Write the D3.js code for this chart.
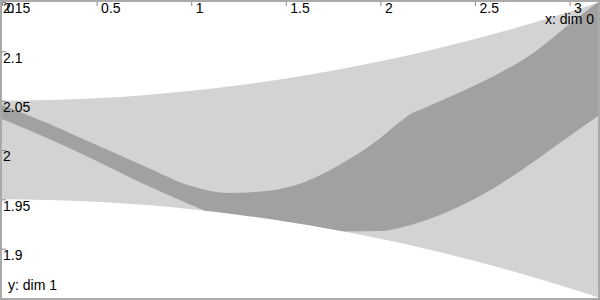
<!DOCTYPE html>
<html>
<head>
<meta charset="utf-8">
<script src="https://cdn.jsdelivr.net/npm/d3@7"></script>
<style>
    body { margin: 0; background: #fff; }
    svg { display: block; font-family: "Liberation Sans", Arial, sans-serif; }
</style>
</head>
<body>
<svg id="chart" width="600" height="300"></svg>
<script>
// tick values
let xTicks = [0, 0.5, 1, 1.5, 2, 2.5, 3];
let yTicks = [1.9, 1.95, 2, 2.05, 2.1, 2.15];

// outer (light) band
let lightX = [0, 0.25, 0.5, 0.75, 1, 1.25, 1.5, 1.75, 2, 2.25, 2.5, 2.75, 3, 3.15];
let lightHi = [2.05, 2.0506, 2.0525, 2.0556, 2.06, 2.0656, 2.0725, 2.0806, 2.09, 2.1006, 2.1125, 2.1256, 2.14, 2.1492];
let lightLo = [1.95, 1.9494, 1.9475, 1.9444, 1.94, 1.9344, 1.9275, 1.9194, 1.91, 1.8994, 1.8875, 1.8744, 1.86, 1.8508];

// inner (dark) band
let darkX = [0, 0.25, 0.5, 0.75, 1, 1.2, 1.4, 1.6, 1.8, 2, 2.1, 2.16, 2.22, 2.4, 2.6, 2.8, 3, 3.15];
let darkHi = [2.0456, 2.0264, 2.0051, 1.9838, 1.9635, 1.9564, 1.9584, 1.9676, 1.9868, 2.0122, 2.028, 2.0365, 2.0416, 2.0568, 2.075, 2.0973, 2.1277, 2.15];
let darkLo = [2.0314, 2.0112, 1.9889, 1.9655, 1.9443, 1.9291, 1.92, 1.9159, 1.9174, 1.9179, 1.921, 1.924, 1.9275, 1.9412, 1.9615, 1.9868, 2.0142, 2.0345];

let xLabel = 'x: dim 0';
let yLabel = 'y: dim 1';

let width = 600, height = 300;
let svg = d3.select('#chart');

let x = d3.scaleLinear().domain([0, 3.15]).range([2, 598]);
let y = d3.scaleLinear().domain([1.85, 2.15]).range([298, 2]);

let defs = svg.append('defs');
defs.append('clipPath').attr('id', 'plotClip')
    .append('rect').attr('x', 2).attr('y', 2).attr('width', 596).attr('height', 296);

let lightArea = d3.area()
    .x((d, i) => x(lightX[i]))
    .y0((d, i) => y(lightLo[i]))
    .y1((d, i) => y(lightHi[i]))
    .curve(d3.curveMonotoneX);

let darkArea = d3.area()
    .x((d, i) => x(darkX[i]))
    .y0((d, i) => y(darkLo[i]))
    .y1((d, i) => y(darkHi[i]))
    .curve(d3.curveMonotoneX);

// dark band only shows inside the light one
defs.append('clipPath').attr('id', 'lightClip')
    .append('path').attr('d', lightArea(lightX));

let plot = svg.append('g').attr('clip-path', 'url(#plotClip)');
plot.append('path').attr('d', lightArea(lightX)).attr('fill', '#d3d3d3');
plot.append('g').attr('clip-path', 'url(#lightClip)')
    .append('path').attr('d', darkArea(darkX)).attr('fill', '#a1a1a1');

// frame
svg.append('rect')
    .attr('x', 1).attr('y', 1)
    .attr('width', width - 2).attr('height', height - 2)
    .attr('fill', 'none').attr('stroke', '#aaa').attr('stroke-width', 2);

// x axis along the top, ticks pointing in
let gx = svg.append('g').attr('transform', 'translate(0,2)')
    .call(d3.axisTop(x).tickValues(xTicks).tickSize(-4).tickFormat(d => String(d)));
gx.attr('font-size', 14).attr('font-family', null);
gx.select('.domain').remove();
gx.selectAll('.tick line').attr('stroke', '#888');
gx.selectAll('.tick text')
    .attr('x', 4).attr('y', 10.5).attr('dy', 0)
    .attr('text-anchor', 'start').attr('fill', '#000');

// y axis along the left
let gy = svg.append('g').attr('transform', 'translate(2,0)')
    .call(d3.axisLeft(y).tickValues(yTicks).tickSize(-4).tickFormat(d => String(d)));
gy.attr('font-size', 14).attr('font-family', null);
gy.select('.domain').remove();
gy.selectAll('.tick line').attr('stroke', '#888');
gy.selectAll('.tick text')
    .attr('x', 1).attr('y', 10.7).attr('dy', 0)
    .attr('text-anchor', 'start').attr('fill', '#000');

svg.append('text')
    .attr('x', 594).attr('y', 24)
    .attr('text-anchor', 'end').attr('font-size', 14)
    .text(xLabel);

svg.append('text')
    .attr('x', 8).attr('y', 289.5)
    .attr('font-size', 14)
    .text(yLabel);
</script>
</body>
</html>
